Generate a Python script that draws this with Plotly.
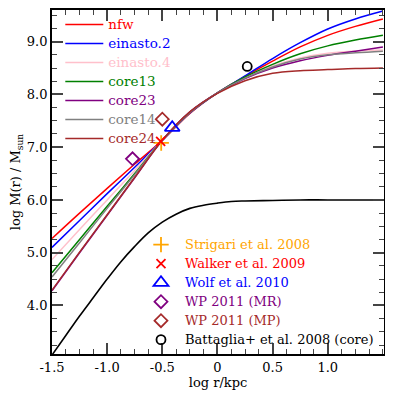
import plotly.graph_objects as go

# -- radial grid (log r / kpc) for the model curves
x_r = [-1.5, -1.25, -1.0, -0.75, -0.5, -0.25, 0.0, 0.25, 0.5, 0.75, 1.0, 1.25, 1.5]

# -- log M(r)
nfw = [5.27, 5.75, 6.22, 6.68, 7.13, 7.64, 8.03, 8.34, 8.63, 8.90, 9.12, 9.29, 9.43]
einasto2 = [5.10, 5.61, 6.12, 6.62, 7.13, 7.65, 8.03, 8.35, 8.68, 8.98, 9.24, 9.43, 9.58]
einasto4 = [4.87, 5.44, 6.00, 6.56, 7.13, 7.66, 8.03, 8.32, 8.54, 8.69, 8.78, 8.82, 8.84]
core13 = [4.62, 5.25, 5.88, 6.50, 7.13, 7.66, 8.03, 8.33, 8.57, 8.77, 8.92, 9.03, 9.12]
core23 = [4.28, 5.00, 5.71, 6.42, 7.13, 7.67, 8.03, 8.30, 8.50, 8.64, 8.74, 8.82, 8.90]
core14 = [4.54, 5.19, 5.84, 6.48, 7.13, 7.66, 8.03, 8.31, 8.52, 8.67, 8.75, 8.79, 8.82]
core24 = [4.29, 5.01, 5.72, 6.43, 7.13, 7.67, 8.02, 8.26, 8.40, 8.45, 8.47, 8.49, 8.50]

# -- stellar mass curve (black)
x_star = [-1.5, -1.375, -1.25, -1.125, -1.0, -0.875, -0.75, -0.625, -0.5, -0.375,
          -0.25, -0.125, 0.0, 0.125, 0.25, 0.5, 0.75, 1.0, 1.5]
m_star = [3.06, 3.43, 3.80, 4.15, 4.50, 4.83, 5.12, 5.38, 5.58, 5.73,
          5.84, 5.90, 5.94, 5.97, 5.98, 5.99, 6.0, 6.0, 6.0]

# -- observational estimates
obs_names = ['Strigari et al. 2008', 'Walker et al. 2009', 'Wolf et al. 2010',
             'WP 2011 (MR)', 'WP 2011 (MP)', 'Battaglia+ et al. 2008 (core)']
obs_x = [-0.51, -0.515, -0.41, -0.77, -0.50, 0.27]
obs_y = [7.08, 7.11, 7.37, 6.78, 7.53, 8.53]

x_ticks = [-1.5, -1.0, -0.5, 0.0, 0.5, 1.0]
x_ticktext = ['-1.5', '-1.0', '-0.5', '0', '0.5', '1.0']
y_ticks = [4.0, 5.0, 6.0, 7.0, 8.0, 9.0]
y_ticktext = ['4.0', '5.0', '6.0', '7.0', '8.0', '9.0']

FONT = 'DejaVu Serif'

fig = go.Figure()

fig.add_trace(go.Scatter(x=x_star, y=m_star, mode='lines', line=dict(color='black', width=1.6, shape='spline'),
                         showlegend=False))

models = [('nfw', nfw, 'red'), ('einasto.2', einasto2, 'blue'), ('einasto.4', einasto4, 'pink'),
          ('core13', core13, 'green'), ('core23', core23, 'purple'), ('core14', core14, 'gray'),
          ('core24', core24, 'brown')]
for name, vals, col in models:
    fig.add_trace(go.Scatter(x=x_r, y=vals, mode='lines', line=dict(color=col, width=1.5, shape='spline'),
                             name='<span style="color:%s;font-size:13.5px">%s</span>' % (col, name),
                             legend='legend'))

obs_style = [('cross-thin-open', 'orange', 11), ('x-thin-open', 'red', 9), ('triangle-up-open', 'blue', 13),
             ('diamond-open', 'purple', 10), ('diamond-open', 'brown', 10), ('circle-open', 'black', 9)]
for i, (sym, col, sz) in enumerate(obs_style):
    fig.add_trace(go.Scatter(x=[obs_x[i]], y=[obs_y[i]], mode='markers',
                             marker=dict(symbol=sym, color=col, size=sz, line=dict(color=col, width=1.8)),
                             name='<span style="color:%s;font-size:13px">%s</span>' % (col, obs_names[i]),
                             legend='legend2'))

fig.update_xaxes(range=[-1.5, 1.51], tickvals=x_ticks, ticktext=x_ticktext, ticks='inside', ticklen=11,
                 tickwidth=1.5, showline=True, linecolor='black', linewidth=1.8, mirror='allticks',
                 showgrid=False, zeroline=False, tickfont=dict(family=FONT, size=13, color='black'),
                 minor=dict(dtick=0.125, tick0=0, ticks='inside', ticklen=5, tickwidth=1.2, showgrid=False),
                 title=dict(text='log r/kpc', font=dict(family=FONT, size=13, color='black'), standoff=4))
fig.update_yaxes(range=[3.08, 9.6], tickvals=y_ticks, ticktext=y_ticktext, ticks='inside', ticklen=11,
                 tickwidth=1.5, showline=True, linecolor='black', linewidth=1.8, mirror='allticks',
                 showgrid=False, zeroline=False, tickfont=dict(family=FONT, size=13, color='black'),
                 minor=dict(dtick=0.25, tick0=0, ticks='inside', ticklen=5, tickwidth=1.2, showgrid=False),
                 title=dict(text='log M(r) / M<sub>sun</sub>', font=dict(family=FONT, size=13, color='black'),
                            standoff=4))

# the page body adds an 8px offset, so the figure is sized to what stays visible
fig.update_layout(
    width=385, height=385,
    margin=dict(l=44, r=9, t=0, b=39),
    paper_bgcolor='white', plot_bgcolor='white',
    font=dict(family=FONT, size=13, color='black'),
    legend=dict(x=0.025, y=1.0, xanchor='left', yanchor='top', bgcolor='rgba(0,0,0,0)',
                font=dict(family=FONT, size=10.5), itemwidth=38, tracegroupgap=0),
    legend2=dict(x=0.256, y=0.36, xanchor='left', yanchor='top', bgcolor='rgba(0,0,0,0)',
                 font=dict(family=FONT, size=11.5), itemwidth=38, tracegroupgap=0),
)

fig.write_html("out.html")
